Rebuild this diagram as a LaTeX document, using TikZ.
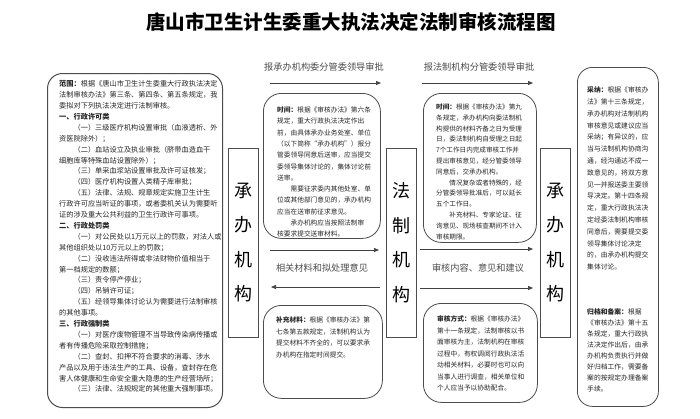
\documentclass[tikz,border=0pt]{standalone}
\usepackage{fontspec}
\setmainfont{Noto Sans CJK SC}
\usetikzlibrary{arrows.meta}

\begin{document}
\begin{tikzpicture}
        [
        x=1pt, y=-1pt,
        roundbox/.style={draw=black!70, line width=0.8pt, rounded corners=18pt, anchor=north west, inner sep=0pt},
        deptbox/.style={draw=black!70, line width=0.8pt, minimum width=30pt, minimum height=189pt, inner sep=0pt, align=center, font=\fontsize{18}{34.5}\selectfont},
        bodytext/.style={anchor=north west, inner sep=0pt, align=left, text=black!85},
        flowlabel/.style={text=black!70, font=\fontsize{9.2}{10}\selectfont, inner sep=0pt},
        flow/.style={-{Triangle[length=5pt,width=4pt]}, draw=black!75, line width=0.7pt}
        ]
        \useasboundingbox (0,0) rectangle (700,418);
        \fill[white] (0,0) rectangle (700,418);

        % Title
        \node[font=\fontsize{19.5}{20}\selectfont\bfseries] (title) at (351,22) {唐山市卫生计生委重大执法决定法制审核流程图};

        % Left: range of decisions
        \node[roundbox, rounded corners=15pt, line width=1pt, minimum width=175pt, minimum height=334pt] (range) at (47,73) {};
        \node[bodytext, font=\fontsize{7.2}{10.9}\selectfont] (rangetext) at (59,80.4) {\textbf{范围：}根据《唐山市卫生计生委重大行政执法决定\\
法制审核办法》第三条、第四条、第五条规定，我\\
委拟对下列执法决定进行法制审核。\\
\textbf{一、行政许可类}\\
\hspace{2em}（一）三级医疗机构设置审批（血液透析、外\\
资医院除外）；\\
\hspace{2em}（二）血站设立及执业审批（脐带血造血干\\
细胞库等特殊血站设置除外）；\\
\hspace{2em}（三）单采血浆站设置审批及许可证核发；\\
\hspace{2em}（四）医疗机构设置人类精子库审批；\\
\hspace{2em}（五）法律、法规、规章规定实施卫生计生\\
行政许可应当听证的事项，或者委机关认为需要听\\
证的涉及重大公共利益的卫生行政许可事项。\\
\textbf{二、行政处罚类}\\
\hspace{2em}（一）对公民处以1万元以上的罚款，对法人或\\
其他组织处以10万元以上的罚款；\\
\hspace{2em}（二）没收违法所得或非法财物价值相当于\\
第一档规定的数额；\\
\hspace{2em}（三）责令停产停业；\\
\hspace{2em}（四）吊销许可证；\\
\hspace{2em}（五）经领导集体讨论认为需要进行法制审核\\
的其他事项。\\
\textbf{三、行政强制类}\\
\hspace{2em}（一）对医疗废物管理不当导致传染病传播或\\
者有传播危险采取控制措施；\\
\hspace{2em}（二）查封、扣押不符合要求的消毒、涉水\\
产品以及用于违法生产的工具、设备，查封存在危\\
害人体健康和生命安全重大隐患的生产经营场所；\\
\hspace{2em}（三）法律、法规规定的其他重大强制事项。};

        % Departments
        \node[deptbox] (deptA) at (243,242.5) {承\\办\\机\\构};
        \node[deptbox] (legal) at (401.5,242.5) {法\\制\\机\\构};
        \node[deptbox] (deptB) at (555.5,242.5) {承\\办\\机\\构};

        % Top arrows
        \node[flowlabel] (askA) at (324,67) {报承办机构委分管委领导审批};
        \node[flowlabel] (askB) at (479,67) {报法制机构分管委领导审批};
        \coordinate (askAs) at (270,83);
        \coordinate (askAe) at (381,83);
        \coordinate (askBs) at (422,83);
        \coordinate (askBe) at (533,83);
        \draw[flow] (askAs) -- (askAe);
        \draw[flow] (askBs) -- (askBe);

        % Time limits, submitting side
        \node[roundbox, minimum width=117pt, minimum height=145pt] (timeA) at (263,93) {};
        \begin{scope}
        \clip[rounded corners=18pt] (timeA.south west) rectangle (timeA.north east);
        \node[bodytext, font=\fontsize{6.7}{11.3}\selectfont] (timeAtext) at (277,106.6) {\textbf{时间：}根据《审核办法》第六条\\
规定，重大行政执法决定作出\\
前，由具体承办业务处室、单位\\
（以下简称“承办机构”）报分\\
管委领导同意后送审，应当提交\\
委领导集体讨论的，集体讨论前\\
送审。\\
\hspace{2em}需要征求委内其他处室、单\\
位或其他部门意见的，承办机构\\
应当在送审前征求意见。\\
\hspace{2em}承办机构应当按照法制审\\
核要求提交送审材料。};
        \end{scope}

        % Time limits, legal side
        \node[roundbox, minimum width=113pt, minimum height=149pt] (timeB) at (423,93) {};
        \begin{scope}
        \clip[rounded corners=18pt] (timeB.south west) rectangle (timeB.north east);
        \node[bodytext, font=\fontsize{6.6}{10.8}\selectfont] (timeBtext) at (436,103.7) {\textbf{时间：}根据《审核办法》第九\\
条规定，承办机构向委法制机\\
构提供的材料齐备之日为受理\\
日，委法制机构自受理之日起\\
7个工作日内完成审核工作并\\
提出审核意见，经分管委领导\\
同意后，交承办机构。\\
\hspace{2em}情况复杂或者特殊的，经\\
分管委领导批准后，可以延长\\
五个工作日。\\
\hspace{2em}补充材料、专家论证、征\\
询意见、现场核查期间不计入\\
审核期限。};
        \end{scope}

        % Middle arrows
        \coordinate (sendAs) at (270,250);
        \coordinate (sendAe) at (379,250);
        \coordinate (backAs) at (380,287);
        \coordinate (backAe) at (271,287);
        \draw[flow] (sendAs) -- (sendAe);
        \draw[flow] (backAs) -- (backAe);
        \node[flowlabel] (material) at (322,268) {相关材料和拟处理意见};

        \coordinate (sendBs) at (420,249);
        \coordinate (sendBe) at (533,249);
        \coordinate (backBs) at (420,288);
        \coordinate (backBe) at (533,288);
        \draw[flow] (sendBs) -- (sendBe);
        \draw[flow] (backBs) -- (backBe);
        \node[flowlabel] (opinion) at (478,268) {审核内容、意见和建议};

        % Supplement and review mode
        \node[roundbox, minimum width=119pt, minimum height=93pt] (supply) at (263,305) {};
        \node[bodytext, font=\fontsize{6.7}{11.6}\selectfont] (supplytext) at (276,316.6) {\textbf{补充材料：}根据《审核办法》第\\
七条第五款规定，法制机构认为\\
提交材料不齐全的，可以要求承\\
办机构在指定时间提交。};

        \node[roundbox, minimum width=114pt, minimum height=99pt] (review) at (423,303) {};
        \node[bodytext, font=\fontsize{6.7}{11.5}\selectfont] (reviewtext) at (437,315.6) {\textbf{审核方式：}根据《审核办法》\\
第十一条规定，法制审核以书\\
面审核为主，法制机构在审核\\
过程中，有权调阅行政执法活\\
动相关材料，必要时也可以向\\
当事人进行调查，相关单位和\\
个人应当予以协助配合。};

        % Right: adopting and filing
        \node[roundbox, rounded corners=15pt, minimum width=81pt, minimum height=339pt] (adopt) at (577,67) {};
        \node[bodytext, font=\fontsize{6.8}{11.8}\selectfont] (adopttext) at (587,86.6) {\textbf{采纳：}根据《审核办\\
法》第十三条规定，\\
承办机构对法制机构\\
审核意见或建议应当\\
采纳；有异议的，应\\
当与法制机构协商沟\\
通，经沟通达不成一\\
致意见的，将双方意\\
见一并报送委主要领\\
导决定。第十四条规\\
定，重大行政执法决\\
定经委法制机构审核\\
同意后，需要提交委\\
领导集体讨论决定\\
的，由承办机构提交\\
集体讨论。};
        \node[bodytext, font=\fontsize{6.8}{11}\selectfont] (filetext) at (587,308.6) {\textbf{归档和备案：}根据\\
《审核办法》第十五\\
条规定，重大行政执\\
法决定作出后，由承\\
办机构负责执行并做\\
好归档工作，需要备\\
案的按规定办理备案\\
手续。};
    \end{tikzpicture}
\end{document}
